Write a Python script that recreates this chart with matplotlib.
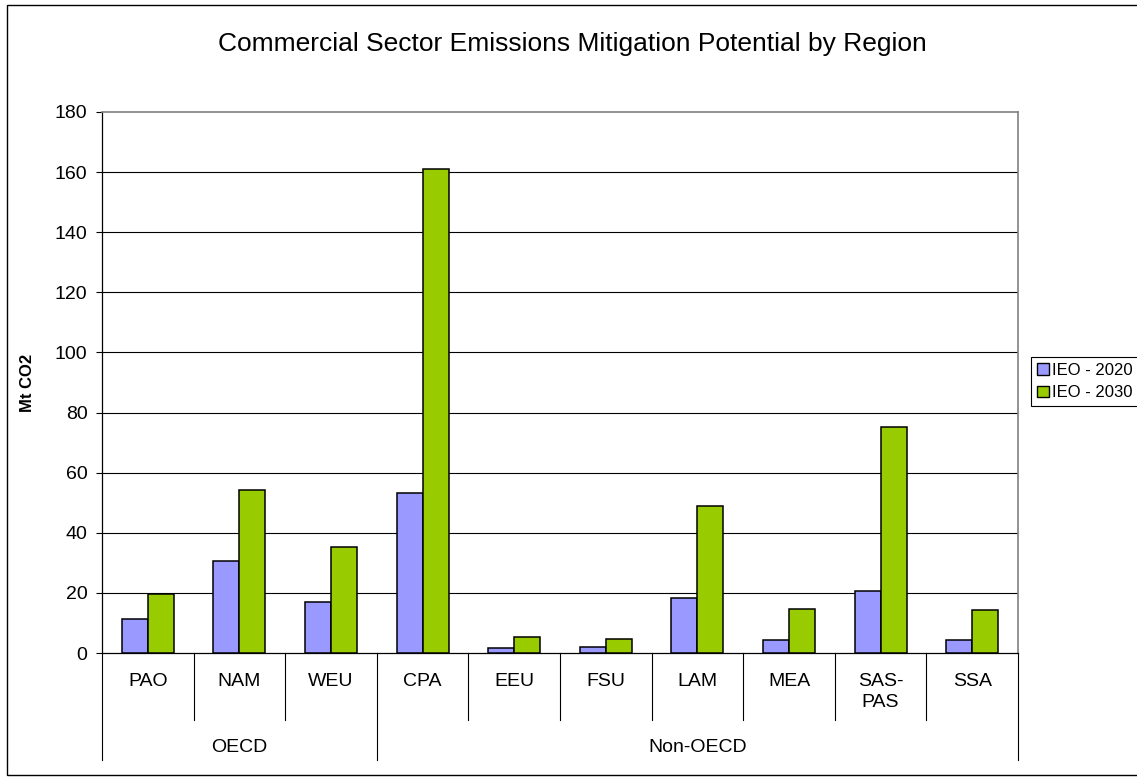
import numpy as np
import matplotlib
matplotlib.use("Agg")
import matplotlib.pyplot as plt
from matplotlib.patches import Patch, Rectangle

# ── Data ─────────────────────────────────────────────────────────────────────
regions     = ["PAO", "NAM", "WEU", "CPA", "EEU", "FSU", "LAM", "MEA", "SAS-\nPAS", "SSA"]
ieo_2020    = [11.3, 30.7, 17.0, 53.1, 1.6, 1.9, 18.4, 4.3, 20.7, 4.2]
ieo_2030    = [19.5, 54.2, 35.3, 161.0, 5.3, 4.7, 49.0, 14.8, 75.1, 14.4]
groups      = ["OECD", "Non-OECD"]
group_sizes = [3, 7]
series_names = ["IEO - 2020", "IEO - 2030"]
yticks      = [0, 20, 40, 60, 80, 100, 120, 140, 160, 180]

C_2020 = "#9999FF"
C_2030 = "#99CC00"

plt.rcParams["font.family"] = ["Liberation Sans", "DejaVu Sans"]

W, H = 1137, 777
fig = plt.figure(figsize=(W / 100, H / 100), dpi=100)
ax = fig.add_axes([102 / W, 1 - 653 / H, 916 / W, 541 / H])

x = np.arange(len(regions))
bw = 0.283
ax.bar(x - bw / 2, ieo_2020, bw, color=C_2020, edgecolor="black", lw=1.1, zorder=3)
ax.bar(x + bw / 2, ieo_2030, bw, color=C_2030, edgecolor="black", lw=1.1, zorder=3)

ax.set_xlim(-0.5, len(regions) - 0.5)
ax.set_ylim(0, 180)
ax.set_yticks(yticks)
ax.set_yticklabels([str(t) for t in yticks], fontsize=14)
ax.tick_params(axis="y", length=4.5, width=0.8, pad=6, color="black")
ax.set_xticks([])
for t in yticks[1:-1]:
    ax.axhline(t, color="black", lw=0.8, zorder=1)

for side in ("top", "right"):
    ax.spines[side].set_color("#808080")
    ax.spines[side].set_linewidth(1.2)
ax.spines["left"].set_color("black")
ax.spines["bottom"].set_color("black")
ax.spines["left"].set_linewidth(0.9)
ax.spines["bottom"].set_linewidth(0.9)

ax.set_ylabel("Mt CO2", fontsize=12, fontweight="bold", labelpad=8)
ax.yaxis.set_label_coords(-(102 - 35) / 916, 0.5)

# ── Category axis (two levels) ───────────────────────────────────────────────
trans = ax.get_xaxis_transform()
cat_bot = -(720 - 653) / 541
grp_bot = -(760 - 653) / 541
bounds = np.cumsum([0] + group_sizes) - 0.5
for k in range(1, len(regions)):
    xs = k - 0.5
    bot = grp_bot if xs in bounds else cat_bot
    ax.plot([xs, xs], [0, bot], transform=trans, color="black", lw=0.8, clip_on=False)
for xs in (bounds[0], bounds[-1]):
    ax.plot([xs, xs], [0, grp_bot], transform=trans, color="black", lw=0.8, clip_on=False)

for xi, name in zip(x, regions):
    ax.text(xi, -(673 - 653) / 541, name, transform=trans, ha="center", va="top",
            fontsize=14, linespacing=1.3)
for g, lo, hi in zip(groups, bounds[:-1], bounds[1:]):
    ax.text((lo + hi) / 2, -(747 - 653) / 541, g, transform=trans,
            ha="center", va="center", fontsize=14)

fig.text(572 / W, 1 - 44 / H, "Commercial Sector Emissions Mitigation Potential by Region",
         ha="center", va="center", fontsize=19)

handles = [Patch(facecolor=C_2020, edgecolor="black", lw=1.0),
           Patch(facecolor=C_2030, edgecolor="black", lw=1.0)]
leg = fig.legend(handles, series_names, loc="upper left",
                 bbox_to_anchor=(1031 / W, 1 - 357 / H), fontsize=12,
                 handlelength=0.7, handleheight=0.7, handletextpad=0.2,
                 borderpad=0.35, labelspacing=0.45, borderaxespad=0,
                 fancybox=False, framealpha=1)
leg.get_frame().set_edgecolor("black")
leg.get_frame().set_linewidth(0.8)

fig.add_artist(Rectangle((7 / W, 2 / H), 1.0, 1 - 7 / H, transform=fig.transFigure,
                         fill=False, edgecolor="black", lw=1.0))

fig.savefig("out.png", dpi=100)
